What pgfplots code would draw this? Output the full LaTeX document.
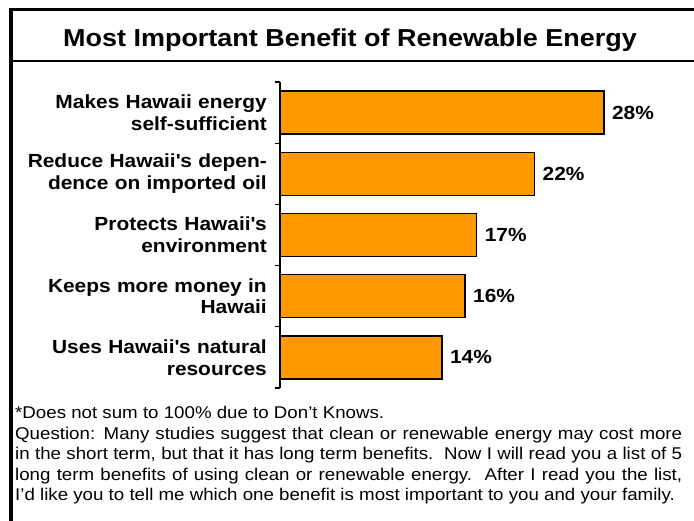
\documentclass[border=0pt]{standalone}
\usepackage{pgfplots}
\pgfplotsset{compat=1.18}
\usepackage{fontspec}
\setmainfont{Liberation Sans}[FakeStretch=1.1]
\definecolor{barorange}{RGB}{255,153,0}
\newcommand{\q}{\textquotesingle}
\begin{document}
\begin{tikzpicture}[x=1pt,y=1pt]
\path[use as bounding box] (0,0) rectangle (694,-521);
\draw[line width=3pt] (8.5,-9.5) -- (694,-9.5);
\draw[line width=4.5pt] (10.75,-8) -- (10.75,-521);
\draw[line width=1.8pt] (10.75,-61) -- (694,-61);
\node[anchor=base, inner sep=0pt, font=\fontsize{24.5}{28}\selectfont\bfseries] at (350,-46.5) {Most Important Benefit of Renewable Energy};
\begin{axis}[
  at={(280pt,-388pt)}, anchor=south west,
  scale only axis, width=405pt, height=306pt,
  xmin=0, xmax=35, ymin=0.5, ymax=5.5, y dir=reverse,
  axis y line*=left, axis x line=none,
  axis line style={line width=1.2pt},
  ytick={1,2,3,4,5},
  yticklabels={{Makes Hawaii energy\\self-sufficient},{Reduce Hawaii\q s depen-\\dence on imported oil},{Protects Hawaii\q s\\environment},{Keeps more money in\\Hawaii},{Uses Hawaii\q s natural\\resources}},
  major tick length=0pt,
  minor ytick={0.5,1.5,2.5,3.5,4.5,5.5},
  minor tick length=5pt,
  tick align=outside,
  minor tick style={line width=1.2pt, black},
  yticklabel style={font=\fontsize{19}{21.7}\selectfont\bfseries, align=right, text width=260pt, inner sep=0pt, xshift=-13pt},
  /pgf/number format/assume math mode=true,
  clip=false,
]
\addplot[xbar, bar width=43pt, fill=barorange, draw=black, line width=1.5pt,
  point meta=x,
  nodes near coords={\pgfmathprintnumber{\pgfplotspointmeta}\%},
  nodes near coords style={font=\fontsize{19}{22}\selectfont\bfseries, anchor=west, xshift=4pt, text=black}]
  coordinates {(28,1) (22,2) (17,3) (16,4) (14,5)};
\end{axis}
\begin{scope}[every node/.style={anchor=base west, inner sep=0pt, font=\fontsize{17}{20}\selectfont}]
\node at (15,-418.5) {*Does not sum to 100\% due to Don’t Knows.};
\node at (15,-439) {\makebox[667pt][s]{Question: Many studies suggest that clean or renewable energy may cost more}};
\node at (15,-459.5) {\makebox[667pt][s]{in the short term, but that it has long term benefits.\ \ Now I will read you a list of 5}};
\node at (15,-480) {\makebox[667pt][s]{long term benefits of using clean or renewable energy.\ \ After I read you the list,}};
\node at (15,-500.5) {I’d like you to tell me which one benefit is most important to you and your family.};
\end{scope}
\end{tikzpicture}
\end{document}
